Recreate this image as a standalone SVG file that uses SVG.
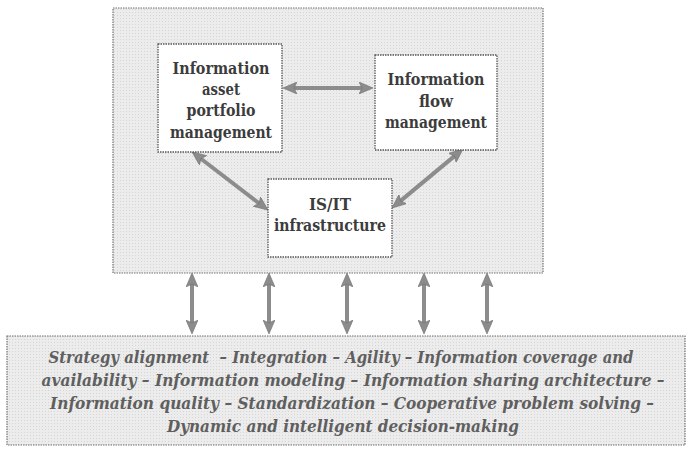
<svg xmlns="http://www.w3.org/2000/svg" width="694" height="458" viewBox="0 0 694 458">
<defs>
<pattern id="dots" width="3" height="3" patternUnits="userSpaceOnUse">
<rect width="3" height="3" fill="#ececec"/>
<rect width="1" height="1" fill="#d6d6d6"/>
</pattern>
<marker id="ah" viewBox="0 0 14 12" markerWidth="14" markerHeight="12" refX="4" refY="6" orient="auto-start-reverse" markerUnits="userSpaceOnUse">
<path d="M0,0 L14,6 L0,12 L3,6 z" fill="#8c8c8c" stroke="#6e6e6e" stroke-width="0.6"/>
</marker>
</defs>
<style>
.panel{fill:url(#dots);stroke:#707070;stroke-width:1.2;stroke-dasharray:1.5 1}
.box{fill:#ffffff;stroke:#555;stroke-width:1.3;stroke-dasharray:1.5 1}
text{font-family:"DejaVu Serif Condensed","DejaVu Serif","Liberation Serif",serif;font-stretch:condensed}
.nt{font-weight:bold;font-size:17px;fill:#3c3c3c;text-anchor:middle}
.bt{font-weight:bold;font-style:italic;font-size:17px;fill:#5f5f5f;text-anchor:middle}
.arr{stroke:#8c8c8c;stroke-width:4;fill:none;marker-start:url(#ah);marker-end:url(#ah)}
</style>
<g id="outer">
<rect class="panel" x="113" y="8" width="430" height="265"/>
</g>
<g id="connectors">
<line class="arr" x1="293" y1="88" x2="363" y2="88"/>
<line class="arr" x1="200" y1="158" x2="260" y2="204"/>
<line class="arr" x1="455.3" y1="155.4" x2="399.7" y2="201.6"/>
<line class="arr" x1="192" y1="283" x2="192" y2="324"/>
<line class="arr" x1="269" y1="283" x2="269" y2="324"/>
<line class="arr" x1="347" y1="283" x2="347" y2="324"/>
<line class="arr" x1="424" y1="283" x2="424" y2="324"/>
<line class="arr" x1="487" y1="283" x2="487" y2="324"/>
</g>
<g id="asset-portfolio">
<rect class="box" x="158" y="44" width="124" height="108"/>
<text class="nt" x="221" y="74" textLength="97" lengthAdjust="spacingAndGlyphs">Information</text>
<text class="nt" x="221" y="95" textLength="38" lengthAdjust="spacingAndGlyphs">asset</text>
<text class="nt" x="221" y="116" textLength="69" lengthAdjust="spacingAndGlyphs">portfolio</text>
<text class="nt" x="221" y="138" textLength="102" lengthAdjust="spacingAndGlyphs">management</text>
</g>
<g id="flow-management">
<rect class="box" x="375" y="55" width="122" height="95"/>
<text class="nt" x="436" y="85" textLength="97" lengthAdjust="spacingAndGlyphs">Information</text>
<text class="nt" x="436" y="107" textLength="34" lengthAdjust="spacingAndGlyphs">flow</text>
<text class="nt" x="436" y="128" textLength="102" lengthAdjust="spacingAndGlyphs">management</text>
</g>
<g id="infrastructure">
<rect class="box" x="268" y="179" width="124" height="78"/>
<text class="nt" x="330" y="210" textLength="42" lengthAdjust="spacingAndGlyphs">IS/IT</text>
<text class="nt" x="330" y="231" textLength="112" lengthAdjust="spacingAndGlyphs">infrastructure</text>
</g>
<g id="capabilities">
<rect class="panel" x="7" y="336" width="678" height="109"/>
<text class="bt" x="341" y="363" xml:space="preserve" textLength="585" lengthAdjust="spacingAndGlyphs">Strategy alignment  – Integration – Agility – Information coverage and</text>
<text class="bt" x="353" y="386" textLength="623" lengthAdjust="spacingAndGlyphs">availability – Information modeling – Information sharing architecture –</text>
<text class="bt" x="352" y="409" textLength="604" lengthAdjust="spacingAndGlyphs">Information quality – Standardization – Cooperative problem solving –</text>
<text class="bt" x="343" y="432" textLength="352" lengthAdjust="spacingAndGlyphs">Dynamic and intelligent decision-making</text>
</g>
</svg>
